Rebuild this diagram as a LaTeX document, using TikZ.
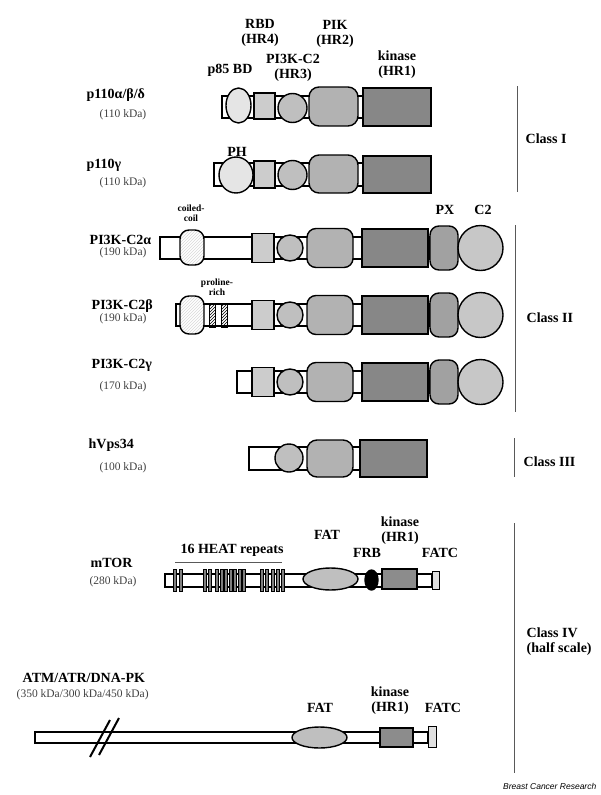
\documentclass[tikz,border=0pt]{standalone}
\usepackage{fontspec}
\setmainfont{Liberation Serif}
\newfontfamily\journalfont{Liberation Sans}
\usetikzlibrary{patterns}

\begin{document}
\begin{tikzpicture}[
x=1pt,
y=-1pt,
line width=1.4pt,
lbl/.style={font=\bfseries\fontsize{14}{15}\selectfont, align=center, inner sep=0pt},
kda/.style={font=\fontsize{11.5}{12}\selectfont, text=black!75, inner sep=0pt},
smalllbl/.style={font=\bfseries\fontsize{9.5}{10}\selectfont, align=center, inner sep=0pt},
backbone/.style={draw=black, fill=white},
classline/.style={draw=black!65, line width=1pt},
]

	\useasboundingbox (0,0) rectangle (600,795);

	%%%%%%%%%%%%%%%%%%%%%%%%%%%%
	%Class I
	%%%%%%%%%%%%%%%%%%%%%%%%%%%%

	% p110 alpha/beta/delta
	\filldraw [backbone] (222,96) rectangle (363,118);
	\filldraw [fill=black!10] (238.5,105.5) ellipse [x radius=12.5, y radius=17.5];
	\filldraw [fill=black!20] (254,93) rectangle (275,119);
	\filldraw [fill=black!25] (292.5,108) circle [radius=14.5];
	\filldraw [fill=black!30, rounded corners=10] (309,87) rectangle (358,126);
	\filldraw [fill=black!47] (363,88) rectangle (431,126);

	% p110 gamma
	\filldraw [backbone] (214,163) rectangle (363,186);
	\filldraw [fill=black!10] (236,175) ellipse [x radius=17, y radius=18];
	\filldraw [fill=black!20] (254,161) rectangle (275,188);
	\filldraw [fill=black!25] (292.5,175) circle [radius=14.5];
	\filldraw [fill=black!30, rounded corners=10] (309,155) rectangle (358,193);
	\filldraw [fill=black!47] (363,156) rectangle (431,193);

	\node [lbl] (rbd) at (260,32.5) {RBD\\(HR4)};
	\node [lbl] (pik) at (335,33.5) {PIK\\(HR2)};
	\node [lbl] (hr3) at (293,67.5) {PI3K-C2\\(HR3)};
	\node [lbl] (p85) at (230,70) {p85 BD};
	\node [lbl] (kin1) at (397,65) {kinase\\(HR1)};
	\node [lbl] (ph) at (237,152) {PH};

	\node [lbl, anchor=west] (p110a) at (86,95) {p110α/β/δ};
	\node [kda] (p110akda) at (123,115) {(110 kDa)};
	\node [lbl, anchor=west] (p110g) at (86,165) {p110γ};
	\node [kda] (p110gkda) at (123,183) {(110 kDa)};

	%%%%%%%%%%%%%%%%%%%%%%%%%%%%
	%Class II
	%%%%%%%%%%%%%%%%%%%%%%%%%%%%

	\foreach \y/\s in {248/160, 315/176, 382/237} {
		\filldraw [backbone] (\s,\y-11) rectangle (430,\y+11);
		\filldraw [fill=black!20] (252,\y-14.5) rectangle (274,\y+14.5);
		\filldraw [fill=black!25] (290,\y) circle [radius=13];
		\filldraw [fill=black!30, rounded corners=9] (307,\y-19.5) rectangle (353,\y+19.5);
		\filldraw [fill=black!47] (362,\y-19) rectangle (428,\y+19);
		\filldraw [fill=black!37, rounded corners=9] (430,\y-22) rectangle (458,\y+22);
		\filldraw [fill=black!22] (480.5,\y) circle [radius=22.5];
	}

	% coiled-coil and proline-rich
	\draw [rounded corners=9, preaction={fill=white}, pattern=north east lines, pattern color=black!15] (180,230) rectangle (204,265);
	\draw [rounded corners=9, preaction={fill=white}, pattern=north east lines, pattern color=black!15] (180,296) rectangle (204,334);
	\draw [line width=1pt, pattern=north east lines] (209,303) rectangle (215.5,327);
	\draw [line width=1pt, pattern=north east lines] (221,303) rectangle (227.5,327);

	\node [smalllbl] (coil) at (191,213) {coiled-\\coil};
	\node [smalllbl] (pro) at (217,287) {proline-\\rich};
	\node [lbl] (px) at (445,210) {PX};
	\node [lbl] (c2) at (483,210) {C2};

	\node [lbl, anchor=west] (c2a) at (89,240) {PI3K-C2α};
	\node [kda] (c2akda) at (123,253) {(190 kDa)};
	\node [lbl, anchor=west] (c2b) at (91,306) {PI3K-C2β};
	\node [kda] (c2bkda) at (123,319) {(190 kDa)};
	\node [lbl, anchor=west] (c2g) at (91,365) {PI3K-C2γ};
	\node [kda] (c2gkda) at (123,387) {(170 kDa)};

	%%%%%%%%%%%%%%%%%%%%%%%%%%%%
	%Class III
	%%%%%%%%%%%%%%%%%%%%%%%%%%%%

	\filldraw [backbone] (249,447) rectangle (360,470);
	\filldraw [fill=black!25] (289,458) circle [radius=14];
	\filldraw [fill=black!30, rounded corners=10] (307,440) rectangle (353,477);
	\filldraw [fill=black!47] (360,440) rectangle (427,477);

	\node [lbl, anchor=west] (vps) at (88,445) {hVps34};
	\node [kda] (vpskda) at (123,468) {(100 kDa)};

	%%%%%%%%%%%%%%%%%%%%%%%%%%%%
	%Class IV
	%%%%%%%%%%%%%%%%%%%%%%%%%%%%

	% mTOR
	\filldraw [backbone] (165,574) rectangle (432,587);
	\foreach \x in {175,181,205,210,217,221.5,226,230.5,235,239.5,244,262,267,273,278,283}
		\filldraw [fill=black!50, line width=0.5pt] (\x-1.3,569) rectangle (\x+1.3,591);
	\filldraw [fill=black!25] (330.5,579) ellipse [x radius=27.5, y radius=11];
	\filldraw [fill=black] (371.5,580) ellipse [x radius=6.5, y radius=10];
	\filldraw [fill=black!45] (382,569) rectangle (417,589);
	\filldraw [fill=black!12, line width=1pt] (432,571) rectangle (439,589);

	\node [lbl] (heat) at (232,550) {16 HEAT repeats};
	\draw [classline] (175,562) -- (282,562);
	\node [lbl] (fat1) at (327,535) {FAT};
	\node [lbl] (kin2) at (400,530.5) {kinase\\(HR1)};
	\node [lbl] (frb) at (367,553) {FRB};
	\node [lbl] (fatc1) at (440,553) {FATC};
	\node [lbl, anchor=west] (mtor) at (90,563) {mTOR};
	\node [kda] (mtorkda) at (113,582) {(280 kDa)};

	% ATM/ATR/DNA-PK
	\filldraw [backbone] (35,732) rectangle (428,743);
	\draw [line width=2pt] (90,757) -- (110,720);
	\draw [line width=2pt] (99,755) -- (119,718);
	\filldraw [fill=black!25] (319.5,737.5) ellipse [x radius=27.5, y radius=10.5];
	\filldraw [fill=black!45] (380,728) rectangle (413,747);
	\filldraw [fill=black!12, line width=1pt] (428,726) rectangle (436,747);

	\node [lbl] (fat2) at (320,708) {FAT};
	\node [lbl] (kin3) at (390,700.5) {kinase\\(HR1)};
	\node [lbl] (fatc2) at (443,708) {FATC};
	\node [lbl, anchor=west] (atm) at (22,678) {ATM/ATR/DNA-PK};
	\node [kda, anchor=west] (atmkda) at (16,695) {(350 kDa/300 kDa/450 kDa)};

	%%%%%%%%%%%%%%%%%%%%%%%%%%%%
	%Class brackets
	%%%%%%%%%%%%%%%%%%%%%%%%%%%%

	\draw [classline] (517,86) -- (517,192);
	\node [lbl, anchor=west] (cl1) at (525,139) {Class I};
	\draw [classline] (515.5,225) -- (515.5,412);
	\node [lbl, anchor=west] (cl2) at (526,318) {Class II};
	\draw [classline] (514,438) -- (514,477);
	\node [lbl, anchor=west] (cl3) at (523,462) {Class III};
	\draw [classline] (514,523) -- (514,773);
	\node [lbl, anchor=west, align=left] (cl4) at (526,642) {Class IV\\(half scale)};

	\node [anchor=east, inner sep=0pt, font=\journalfont\itshape\fontsize{8.5}{9}\selectfont] (journal) at (597,786) {Breast Cancer Research};

\end{tikzpicture}
\end{document}
